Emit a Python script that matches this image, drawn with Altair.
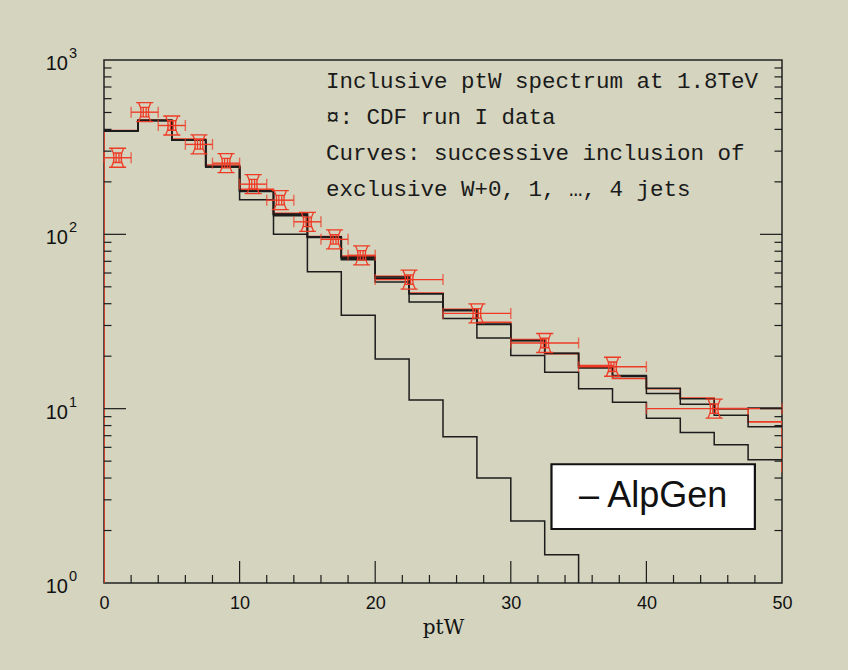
import altair as alt
import pandas as pd

# ---------------- data ----------------
bin_edges = [2.5 * i for i in range(21)]  # 0 .. 50, width 2.5

# successive inclusion of exclusive W+0, 1, ..., 4 jets
curve_w0 = [392, 450, 347, 243, 158, 100, 61, 34.3, 19.3, 11.2, 6.9, 4.0, 2.27, 1.45]
curve_w1 = [392, 450, 347, 243, 176, 128, 95.8, 71.5, 53.3, 40.9, 32.9, 25.4, 20.2, 16.2,
            13.0, 10.9, 8.8, 7.3, 6.2, 5.1]
curve_w2 = [392, 450, 347, 245, 178, 130, 96.5, 73, 56, 45.6, 36.5, 30.4, 24.5, 20.7,
            17.1, 15.3, 12.2, 10.6, 9.16, 7.87]
curve_w3 = [392, 450, 347, 245, 178, 131, 97, 74, 57, 45.6, 36.8, 30.6, 24.6, 20.8,
            17.3, 15.5, 13.1, 11.4, 10.0, 10.1]
curve_w4 = [394, 452, 352, 250, 181, 132, 97, 75, 57.5, 46, 37.2, 31.3, 24.9, 20.7,
            17.7, 14.9, 13.0, 11.5, 10.0, 8.4]
curve_w4_next = 4.3  # value of the following bin, seen as the drop at ptW = 50

# CDF run I data
data_lo = [0, 2, 4, 6, 8, 10, 12, 14, 16, 18, 20, 25, 30, 35, 40]
data_hi = [2, 4, 6, 8, 10, 12, 14, 16, 18, 20, 25, 30, 35, 40, 50]
data_val = [275, 502, 421, 328, 256, 194, 157, 118, 93.6, 75.8, 55.0, 35.2, 23.8, 17.4, 10.0]

x_ticks = [0, 10, 20, 30, 40, 50]
y_decades = [1, 10, 100, 1000]
y_exponents = ["0", "1", "2", "3"]

notes = ["Inclusive ptW spectrum at 1.8TeV",
         "\u00a4: CDF run I data",
         "Curves: successive inclusion of",
         "exclusive W+0, 1, \u2026, 4 jets"]

# ---------------- build tables ----------------
def step_path(name, vals, start_from_axis=False, drop_to=None):
    rows = []
    k = 0
    if start_from_axis:
        rows.append((name, k, 0.0, 1.0)); k += 1
    for i, v in enumerate(vals):
        rows.append((name, k, bin_edges[i], v)); k += 1
        rows.append((name, k, bin_edges[i + 1], v)); k += 1
    if drop_to is not None:
        rows.append((name, k, bin_edges[len(vals)], drop_to)); k += 1
    return rows

rows = []
rows += step_path("w0", curve_w0, drop_to=1.0)
rows += step_path("w1", curve_w1)
rows += step_path("w2", curve_w2)
rows += step_path("w3", curve_w3)
black_df = pd.DataFrame(rows, columns=["curve", "order", "x", "y"])
red_df = pd.DataFrame(step_path("w4", curve_w4, start_from_axis=True, drop_to=curve_w4_next),
                      columns=["curve", "order", "x", "y"])

pts = pd.DataFrame({
    "lo": data_lo, "hi": data_hi, "val": data_val,
    "mid": [(a + b) / 2 for a, b in zip(data_lo, data_hi)],
})

W, H = 678, 523
RED = "#ee3b25"
BLACK = "#1c1c1c"

xs = alt.Scale(domain=[0, 50], nice=False, zero=False)
ys = alt.Scale(type="log", domain=[1, 1000], nice=False)
x_axis = alt.Axis(values=x_ticks, domain=False, ticks=False, grid=False,
                  labelFont="Liberation Sans", labelFontSize=18, labelColor="#111",
                  labelPadding=11, labelFlush=False, labelBound=False,
                  titleFont="DejaVu Serif", titleFontSize=20,
                  titleColor="#111", titleFontWeight="normal", titlePadding=5)

X = lambda f: alt.X(f, type="quantitative", scale=xs, axis=x_axis, title="ptW")
Y = lambda f: alt.Y(f, type="quantitative", scale=ys, axis=None)

red_hist = alt.Chart(red_df).mark_line(color=RED, strokeWidth=1.6, clip=True).encode(
    x=X("x"), y=Y("y"), order="order:Q")

black_hist = alt.Chart(black_df).mark_line(color=BLACK, strokeWidth=1.5, clip=True).encode(
    x=X("x"), y=Y("y"), detail="curve:N", order="order:Q")

err_h = alt.Chart(pts).mark_rule(color=RED, strokeWidth=1.4).encode(
    x=X("lo"), x2="hi", y=Y("val"))
cap_lo = alt.Chart(pts).mark_tick(color=RED, orient="vertical", size=11, thickness=1.4).encode(
    x=X("lo"), y=Y("val"))
cap_hi = alt.Chart(pts).mark_tick(color=RED, orient="vertical", size=11, thickness=1.4).encode(
    x=X("hi"), y=Y("val"))

marker_path = ("M -0.9 -1 L 0.9 -1 M -0.9 1 L 0.9 1 "
               "M -0.65 -1 Q -0.1 0 -0.65 1 M 0.65 -1 Q 0.1 0 0.65 1 "
               "M -0.4 -0.5 L 0.4 -0.5 L 0.4 0.5 L -0.4 0.5 Z "
               "M -0.15 -0.5 L -0.15 0.5 M 0.15 -0.5 L 0.15 0.5")
markers = alt.Chart(pts).mark_point(shape=marker_path, size=361, color=RED, filled=False,
                                    strokeWidth=1.3, opacity=1).encode(
    x=X("mid"), y=Y("val"))

# ticks (inward) on bottom, left and right
minor_x = pd.DataFrame({"x": [v for v in range(2, 50, 2) if v % 10 != 0]})
major_x = pd.DataFrame({"x": [10, 20, 30, 40]})
tick_minor_x = alt.Chart(minor_x).mark_rule(color=BLACK, strokeWidth=1.2).encode(
    x=X("x"), y=alt.value(H), y2=alt.value(H - 8))
tick_major_x = alt.Chart(major_x).mark_rule(color=BLACK, strokeWidth=1.2).encode(
    x=X("x"), y=alt.value(H), y2=alt.value(H - 22))

minor_y = pd.DataFrame({"v": [m * 10 ** k for k in range(3) for m in range(2, 10)]})
major_y = pd.DataFrame({"v": [10, 100]})
tl_minor = alt.Chart(minor_y).mark_rule(color=BLACK, strokeWidth=1.2).encode(
    y=Y("v"), x=alt.value(0), x2=alt.value(7.5))
tl_major = alt.Chart(major_y).mark_rule(color=BLACK, strokeWidth=1.2).encode(
    y=Y("v"), x=alt.value(0), x2=alt.value(22))
tr_minor = alt.Chart(minor_y).mark_rule(color=BLACK, strokeWidth=1.2).encode(
    y=Y("v"), x=alt.value(W), x2=alt.value(W - 7.5))
tr_major = alt.Chart(major_y).mark_rule(color=BLACK, strokeWidth=1.2).encode(
    y=Y("v"), x=alt.value(W), x2=alt.value(W - 22))

# y tick labels 10^k
ylab_df = pd.DataFrame({"v": y_decades, "e": y_exponents})
ylab_base = alt.Chart(ylab_df).mark_text(text="10", align="right", baseline="middle",
                                         font="Liberation Sans", fontSize=20, color="#111",
                                         dy=4).encode(y=Y("v"), x=alt.value(-36))
ylab_exp = alt.Chart(ylab_df).mark_text(align="left", baseline="middle",
                                        font="Liberation Sans", fontSize=14.5, color="#111",
                                        dy=-6).encode(y=Y("v"), x=alt.value(-35), text="e:N")

# annotation text, one line per layer
note_layers = []
for i, t in enumerate(notes):
    note_layers.append(
        alt.Chart(pd.DataFrame({"t": [t]})).mark_text(
            align="left", baseline="middle", font="Liberation Mono", fontSize=22.5,
            color="#1a1a1a").encode(x=alt.value(222), y=alt.value(21 + 36 * i), text="t:N"))

# AlpGen box
box_df = pd.DataFrame({"x1": [33.0], "x2": [48.0], "y1": [2.04], "y2": [4.8],
                       "xm": [40.5], "ym": [3.15], "t": ["\u2013 AlpGen"]})
box = alt.Chart(box_df).mark_rect(fill="white", stroke="#111", strokeWidth=2.2).encode(
    x=X("x1"), x2="x2", y=Y("y1"), y2="y2")
box_text = alt.Chart(box_df).mark_text(font="Liberation Sans", fontSize=36, color="#111",
                                       align="center", baseline="middle").encode(
    x=X("xm"), y=Y("ym"), text="t:N")

chart = alt.layer(
    red_hist, black_hist, err_h, cap_lo, cap_hi, markers,
    tick_minor_x, tick_major_x, tl_minor, tl_major, tr_minor, tr_major,
    ylab_base, ylab_exp, *note_layers, box, box_text,
).properties(
    width=W, height=H,
    autosize=alt.AutoSizeParams(type="none"),
    padding={"left": 104, "top": 60, "right": 66, "bottom": 87},
    background="#d4d4bf",
).configure_view(stroke="#222", strokeWidth=1.5)

chart.save("out.html", embed_options={"renderer": "svg", "actions": False})
